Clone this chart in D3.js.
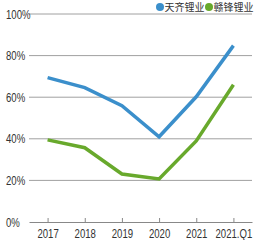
<!DOCTYPE html>
<html>
<head>
<meta charset="utf-8">
<script src="https://cdn.jsdelivr.net/npm/d3@7"></script>
<style>
  body { margin:0; background:#fff; }
  svg text { font-family: "Liberation Sans", "DejaVu Sans", sans-serif; fill:#333; }
</style>
</head>
<body>
<svg id="chart" width="260" height="240"></svg>
<script>
var years = ['2017', '2018', '2019', '2020', '2021', '2021.Q1'];
var tianqi = [69.4, 64.6, 55.9, 41, 60.2, 84.8];
var ganfeng = [39.5, 35.7, 23.1, 20.7, 39, 66];
var yTicks = [0, 20, 40, 60, 80, 100];
var seriesNames = ['天齐锂业', '赣锋锂业'];
var colors = ['#3b8fcb', '#68a92c'];

var svg = d3.select('#chart');
var mLeft = 29, mRight = 252, mTop = 14, mBottom = 222;

var x = d3.scalePoint().domain(years).range([mLeft, mRight]).padding(0.5);
var y = d3.scaleLinear().domain([0, 100]).range([mBottom, mTop]);

// gridlines
svg.append('g')
	.selectAll('line')
	.data(yTicks.slice(1))
	.enter()
	.append('line')
	.attr('x1', mLeft).attr('x2', mRight)
	.attr('y1', function(d){ return y(d); })
	.attr('y2', function(d){ return y(d); })
	.style('stroke', '#a0a0a0')
	.style('stroke-width', 1);

// y labels (narrow look)
svg.append('g')
	.selectAll('text')
	.data(yTicks)
	.enter()
	.append('text')
	.attr('transform', function(d){ return 'translate(6,' + (y(d) + 4.5) + ') scale(0.8,1)'; })
	.style('font-size', '12px')
	.text(function(d){ return d + '%'; });

// x axis
var xAxis = svg.append('g')
	.attr('transform', 'translate(0,' + mBottom + ')')
	.call(d3.axisBottom(x).tickSizeInner(-4).tickSizeOuter(0).tickPadding(7));
xAxis.select('.domain').style('stroke', '#888');
xAxis.selectAll('.tick line').style('stroke', '#888');
xAxis.selectAll('text')
	.style('font-size', '12px')
	.style('font-family', '"Liberation Sans", sans-serif')
	.attr('transform', 'scale(0.8,1)')
	.attr('fill', '#333');

// lines
var line = d3.line()
	.x(function(d, i){ return x(years[i]); })
	.y(function(d){ return y(d); });

[tianqi, ganfeng].forEach(function(s, i){
	svg.append('path')
		.datum(s)
		.attr('d', line)
		.style('fill', 'none')
		.style('stroke', colors[i])
		.style('stroke-width', 3.5)
		.style('stroke-linejoin', 'miter');
});

// legend
var legendX = [160, 209];
seriesNames.forEach(function(n, i){
	svg.append('circle')
		.attr('cx', legendX[i]).attr('cy', 7).attr('r', 4)
		.style('fill', colors[i]);
	svg.append('text')
		.attr('x', legendX[i] + 4.5).attr('y', 11)
		.style('font-size', '10px')
		.style('font-family', '"Noto Sans CJK SC", sans-serif')
		.text(n);
});
</script>
</body>
</html>
